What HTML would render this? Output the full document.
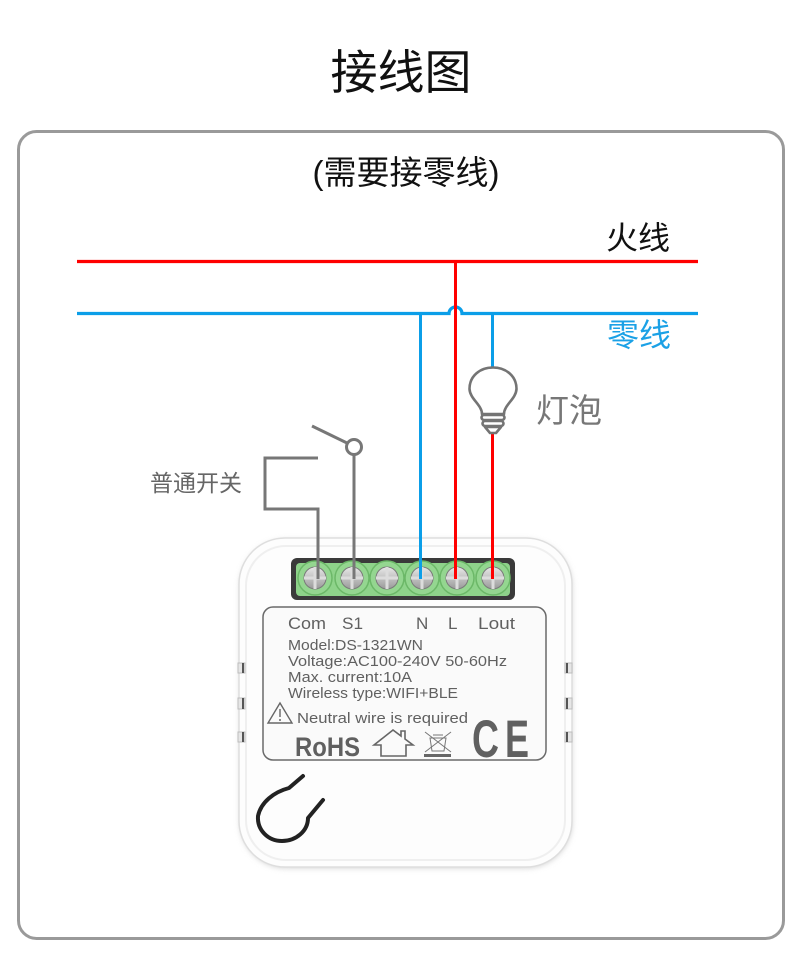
<!DOCTYPE html>
<html>
<head>
<meta charset="utf-8">
<style>
html,body{margin:0;padding:0;background:#fff;}
body{width:800px;height:957px;overflow:hidden;}
svg{display:block;}
.cjk{font-family:"Liberation Sans","Noto Sans CJK SC",sans-serif;}
.lat{font-family:"Liberation Sans",sans-serif;}
</style>
</head>
<body>
<svg width="800" height="957" viewBox="0 0 800 957" xmlns="http://www.w3.org/2000/svg">
  <defs>
    <filter id="sh" x="-10%" y="-10%" width="120%" height="120%">
      <feGaussianBlur stdDeviation="3"/>
    </filter>
    <linearGradient id="scr" x1="0" y1="0" x2="0" y2="1">
      <stop offset="0" stop-color="#e8e8e8"/>
      <stop offset="1" stop-color="#9a9a9a"/>
    </linearGradient>
  </defs>

  <!-- title -->
  <text x="401" y="89" text-anchor="middle" class="cjk" font-size="47" fill="#111">接线图</text>

  <!-- outer frame -->
  <rect x="18.5" y="131.5" width="765" height="807" rx="18" ry="18" fill="none" stroke="#9a9a9a" stroke-width="3"/>

  <text x="406" y="184" text-anchor="middle" class="cjk" font-size="33" fill="#111">(需要接零线)</text>

  <!-- live wire -->
  <line x1="77" y1="261.5" x2="698" y2="261.5" stroke="#ff0000" stroke-width="3.2"/>
  <text x="638" y="249" text-anchor="middle" class="cjk" font-size="32" fill="#111">火线</text>

  <!-- neutral wire with hop -->
  <path d="M77,313.5 L449,313.5 A6.5,6.5 0 0 1 462,313.5 L698,313.5" fill="none" stroke="#0b9ee8" stroke-width="3.2"/>
  <text x="639" y="346" text-anchor="middle" class="cjk" font-size="32" fill="#1ba1e6">零线</text>

  <!-- device body -->
  <rect x="240" y="540" width="332" height="328" rx="46" ry="46" fill="#d0d0d0" filter="url(#sh)"/>
  <rect x="239" y="538" width="333" height="329" rx="46" ry="46" fill="#fdfdfd" stroke="#dedede" stroke-width="1.5"/>
  <rect x="246" y="546" width="319" height="314" rx="40" ry="40" fill="none" stroke="#efefef" stroke-width="2"/>

  <!-- vent slots -->
  <g fill="#e6e6e6" stroke="#bdbdbd" stroke-width="1">
    <rect x="238" y="663" width="7" height="10"/>
    <rect x="238" y="698" width="7" height="11"/>
    <rect x="238" y="732" width="7" height="10"/>
    <rect x="565" y="663" width="7" height="10"/>
    <rect x="565" y="698" width="7" height="11"/>
    <rect x="565" y="732" width="7" height="10"/>
  </g>
  <g stroke="#555" stroke-width="2">
    <line x1="243" y1="663" x2="243" y2="673"/>
    <line x1="243" y1="698" x2="243" y2="709"/>
    <line x1="243" y1="732" x2="243" y2="742"/>
    <line x1="567" y1="663" x2="567" y2="673"/>
    <line x1="567" y1="698" x2="567" y2="709"/>
    <line x1="567" y1="732" x2="567" y2="742"/>
  </g>

  <!-- terminal block -->
  <rect x="291" y="558" width="224" height="42" rx="6" ry="6" fill="#3a3a3a"/>
  <rect x="296" y="563" width="214" height="33" rx="4" ry="4" fill="#8ed38a"/>
  <g fill="#94d690" stroke="#6cb868" stroke-width="1.5">
    <circle cx="315" cy="578" r="17"/>
    <circle cx="352" cy="578" r="17"/>
    <circle cx="387" cy="578" r="17"/>
    <circle cx="422" cy="578" r="17"/>
    <circle cx="457" cy="578" r="17"/>
    <circle cx="493" cy="578" r="17"/>
  </g>
  <g fill="url(#scr)" stroke="#7a7a7a" stroke-width="1">
    <circle cx="315" cy="578" r="11"/>
    <circle cx="352" cy="578" r="11"/>
    <circle cx="387" cy="578" r="11"/>
    <circle cx="422" cy="578" r="11"/>
    <circle cx="457" cy="578" r="11"/>
    <circle cx="493" cy="578" r="11"/>
  </g>
  <g stroke="#dcdcdc" stroke-width="3">
    <path d="M304,578 H326 M315,567 V589"/>
    <path d="M341,578 H363 M352,567 V589"/>
    <path d="M376,578 H398 M387,567 V589"/>
    <path d="M411,578 H433 M422,567 V589"/>
    <path d="M446,578 H468 M457,567 V589"/>
    <path d="M482,578 H504 M493,567 V589"/>
  </g>

  <!-- vertical wires -->
  <line x1="420.5" y1="313.5" x2="420.5" y2="579" stroke="#0b9ee8" stroke-width="3"/>
  <line x1="455.5" y1="261.5" x2="455.5" y2="579" stroke="#ff0000" stroke-width="3"/>
  <line x1="492.5" y1="313.5" x2="492.5" y2="367" stroke="#0b9ee8" stroke-width="3"/>
  <line x1="492.5" y1="433" x2="492.5" y2="579" stroke="#ff0000" stroke-width="3"/>

  <!-- bulb -->
  <g fill="#fff" stroke="#747474" stroke-width="2.6" stroke-linejoin="round">
    <path d="M482,414 C482,405 470,399 469.5,389 C469.5,376 480,367.5 493,367.5 C506,367.5 516.5,376 516.5,389 C516,399 504,405 504,414 Z"/>
    <rect x="481.5" y="415" width="23" height="5" rx="2.5"/>
    <rect x="482.5" y="421" width="21" height="5" rx="2.5"/>
    <path d="M485,427 H501 L496,433 H490 Z"/>
  </g>
  <text x="536" y="422" class="cjk" font-size="33" fill="#777">灯泡</text>

  <!-- switch -->
  <g fill="none" stroke="#777" stroke-width="3">
    <line x1="312" y1="426" x2="347" y2="443"/>
    <circle cx="354" cy="447" r="7.5"/>
    <line x1="354" y1="455" x2="354" y2="579"/>
    <path d="M318,458 H265 V509 H318 V579"/>
  </g>
  <text x="150" y="491" class="cjk" font-size="23" fill="#666">普通开关</text>

  <!-- label panel -->
  <rect x="263" y="607" width="283" height="153" rx="10" ry="10" fill="#fafafa" stroke="#6a6a6a" stroke-width="1.5"/>
  <g class="lat" fill="#606060">
    <text x="288" y="629" font-size="17" textLength="38" lengthAdjust="spacingAndGlyphs">Com</text>
    <text x="342" y="629" font-size="17" textLength="21" lengthAdjust="spacingAndGlyphs">S1</text>
    <text x="416" y="629" font-size="17">N</text>
    <text x="448" y="629" font-size="17">L</text>
    <text x="478" y="629" font-size="17" textLength="37" lengthAdjust="spacingAndGlyphs">Lout</text>
    <text x="288" y="650" font-size="14.5" textLength="135" lengthAdjust="spacingAndGlyphs">Model:DS-1321WN</text>
    <text x="288" y="666" font-size="14.5" textLength="219" lengthAdjust="spacingAndGlyphs">Voltage:AC100-240V  50-60Hz</text>
    <text x="288" y="682" font-size="14.5" textLength="124" lengthAdjust="spacingAndGlyphs">Max.  current:10A</text>
    <text x="288" y="698" font-size="14.5" textLength="170" lengthAdjust="spacingAndGlyphs">Wireless type:WIFI+BLE</text>
    <text x="297" y="723" font-size="14.5" textLength="171" lengthAdjust="spacingAndGlyphs">Neutral wire is required</text>
    <text x="295" y="756" font-size="27" font-weight="bold" textLength="65" lengthAdjust="spacingAndGlyphs">RoHS</text>
    <text x="472" y="757" font-size="53" font-weight="bold" textLength="27" lengthAdjust="spacingAndGlyphs">C</text>
    <text x="505" y="757" font-size="53" font-weight="bold" textLength="24" lengthAdjust="spacingAndGlyphs">E</text>
  </g>
  <!-- warning triangle -->
  <g fill="none" stroke="#666" stroke-width="1.4">
    <path d="M280,703 L292,723 L268,723 Z"/>
    <line x1="280" y1="709" x2="280" y2="717"/>
  </g>
  <circle cx="280" cy="720" r="1" fill="#666"/>
  <!-- house -->
  <path d="M374,745 L393,730 L401,736 V731 H405 V739 L413,745 H406 V756 H381 V745 Z" fill="none" stroke="#666" stroke-width="1.6" stroke-linejoin="miter"/>
  <!-- bin -->
  <g fill="none" stroke="#777" stroke-width="1">
    <path d="M430,738 H446 L444,751 H432 Z"/>
    <line x1="433" y1="735" x2="443" y2="735"/>
    <line x1="425" y1="732" x2="451" y2="752"/>
    <line x1="451" y1="732" x2="425" y2="752"/>
  </g>
  <rect x="424" y="754" width="27" height="3" fill="#666"/>

  <!-- hook -->
  <path d="M303,776 L289,788 C274,792 261,802 258,816 C257,830 268,841 282,841 C296,841 308,831 308,818 L323,800" fill="none" stroke="#222" stroke-width="4" stroke-linecap="round" stroke-linejoin="round"/>
</svg>
</body>
</html>
